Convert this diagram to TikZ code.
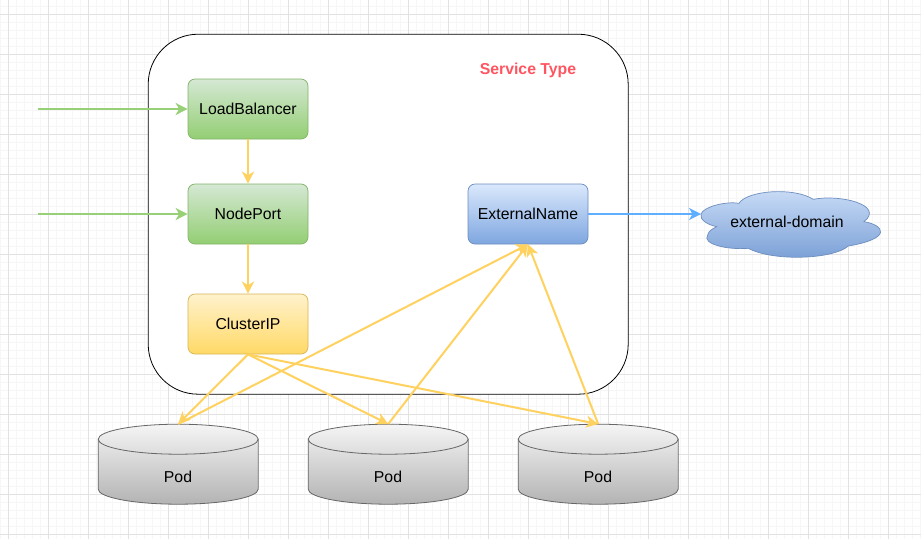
\documentclass[tikz,border=0pt]{standalone}
\usepackage{fontspec}
\setmainfont{Liberation Sans}
\usetikzlibrary{arrows.meta}
\definecolor{gridmajor}{HTML}{E2E2E2}
\definecolor{gridminor}{HTML}{F6F6F6}
\definecolor{greenline}{HTML}{97D077}
\definecolor{yellowline}{HTML}{FFD15F}
\definecolor{blueline}{HTML}{5FAEFF}
\definecolor{greentop}{HTML}{D5E8D4}
\definecolor{greenbot}{HTML}{93CE73}
\definecolor{greenedge}{HTML}{82B366}
\definecolor{yellowtop}{HTML}{FFF2CC}
\definecolor{yellowbot}{HTML}{FFD966}
\definecolor{yellowedge}{HTML}{D6B656}
\definecolor{bluetop}{HTML}{DAE8FC}
\definecolor{bluebot}{HTML}{7EA6E0}
\definecolor{blueedge}{HTML}{6C8EBF}
\definecolor{podtop}{HTML}{F5F5F5}
\definecolor{podbot}{HTML}{B3B3B3}
\definecolor{podedge}{HTML}{666666}
\definecolor{titlered}{HTML}{FF5561}
\tikzset{
  labeltext/.style={font=\fontsize{15.8}{18}\selectfont},
  box/.style={labeltext,shade,rounded corners=7pt,minimum width=120pt,minimum height=60pt,line width=0.7pt,inner sep=0pt},
  greenbox/.style={box,top color=greentop,bottom color=greenbot,draw=greenedge},
  yellowbox/.style={box,top color=yellowtop,bottom color=yellowbot,draw=yellowedge},
  bluebox/.style={box,top color=bluetop,bottom color=bluebot,draw=blueedge},
  flow/.style={line width=2pt,-{Stealth[length=12pt,width=12pt,inset=3.5pt]}},
  greenflow/.style={flow,draw=greenline},
  yellowflow/.style={flow,draw=yellowline},
  blueflow/.style={flow,draw=blueline},
  podbox/.style={minimum width=160pt,minimum height=80pt,inner sep=0pt},
}
\begin{document}
\begin{tikzpicture}[x=1pt,y=-1pt]
\useasboundingbox (0,0) rectangle (921,539);
\fill[white] (0,0) rectangle (921,539);
% grid
\foreach \i in {0,...,115} \draw[gridminor,line width=0.6pt] ({\i*8+0.5},0) -- ({\i*8+0.5},539);
\foreach \i in {0,...,67} \draw[gridminor,line width=0.6pt] (0,{\i*8+6.5}) -- (921,{\i*8+6.5});
\foreach \i in {0,...,23} \draw[gridmajor,line width=0.7pt] ({\i*40+8.5},0) -- ({\i*40+8.5},539);
\foreach \i in {0,...,13} \draw[gridmajor,line width=0.7pt] (0,{\i*40+14.5}) -- (921,{\i*40+14.5});
% container
\node[draw=black,fill=white,line width=0.8pt,rounded corners=50pt,minimum width=480pt,minimum height=360pt,inner sep=0pt] (frame) at (388.2,214.2) {};
\node[labeltext,font=\fontsize{15.8}{18}\selectfont\bfseries,text=titlered] (title) at (528,70) {Service Type};
% boxes
\node[greenbox] (lb) at (248,109) {LoadBalancer};
\node[greenbox] (np) at (248,214) {NodePort};
\node[yellowbox] (cip) at (248,324) {ClusterIP};
\node[bluebox] (en) at (528,214) {ExternalName};
% cloud
\begin{scope}[shift={(440,170)},x=0.33333pt,y=-0.33333pt]
\shade[top color=bluetop!85!bluebot,bottom color=bluebot!95!black,draw=blueedge,line width=0.7pt]
 (783,132) .. controls (790,110) and (860,93) .. (897,100)
 .. controls (920,62) and (1060,50) .. (1120,88)
 .. controls (1200,72) and (1335,105) .. (1272,155)
 .. controls (1332,165) and (1360,205) .. (1225,228)
 .. controls (1180,268) and (1000,275) .. (925,235)
 .. controls (860,240) and (785,222) .. (803,195)
 .. controls (805,183) and (820,175) .. (830,170)
 .. controls (805,165) and (778,150) .. (783,132) -- cycle;
\coordinate (cloudw) at (783,132);
\end{scope}
\node[labeltext] (domain) at (787,222) {external-domain};
% pods
\foreach \n/\cx in {p1/178.2,p2/388.2,p3/598.2}{
  \shade[top color=podtop,bottom color=podbot]
    (\cx-80,439.2) arc[start angle=180,end angle=360,x radius=80,y radius=15]
    -- (\cx+80,489.2) arc[start angle=0,end angle=180,x radius=80,y radius=15] -- cycle;
  \draw[podedge,line width=0.8pt]
    (\cx-80,439.2) arc[start angle=180,end angle=360,x radius=80,y radius=15]
    -- (\cx+80,489.2) arc[start angle=0,end angle=180,x radius=80,y radius=15] -- cycle;
  \draw[podedge,line width=0.8pt]
    (\cx-80,439.2) arc[start angle=180,end angle=0,x radius=80,y radius=15];
  \node[podbox] (\n) at (\cx,464.2) {};
}
\node[labeltext] (p1t) at (178,477) {Pod};
\node[labeltext] (p2t) at (388,477) {Pod};
\node[labeltext] (p3t) at (598,477) {Pod};
% connectors
\coordinate (in1) at (38,109);
\coordinate (in2) at (38,214);
\draw[greenflow] (in1) -- (lb.west);
\draw[greenflow] (in2) -- (np.west);
\draw[yellowflow] (lb) -- (np);
\draw[yellowflow] (np) -- (cip);
\draw[blueflow] (en.east) -- (en.east -| cloudw);
\draw[yellowflow] (cip.south) -- (p1.north);
\draw[yellowflow] (cip.south) -- (p2.north);
\draw[yellowflow] (cip.south) -- (p3.north);
\draw[yellowflow] (p1.north) -- (en.south);
\draw[yellowflow] (p2.north) -- (en.south);
\draw[yellowflow] (p3.north) -- (en.south);
\end{tikzpicture}
\end{document}
